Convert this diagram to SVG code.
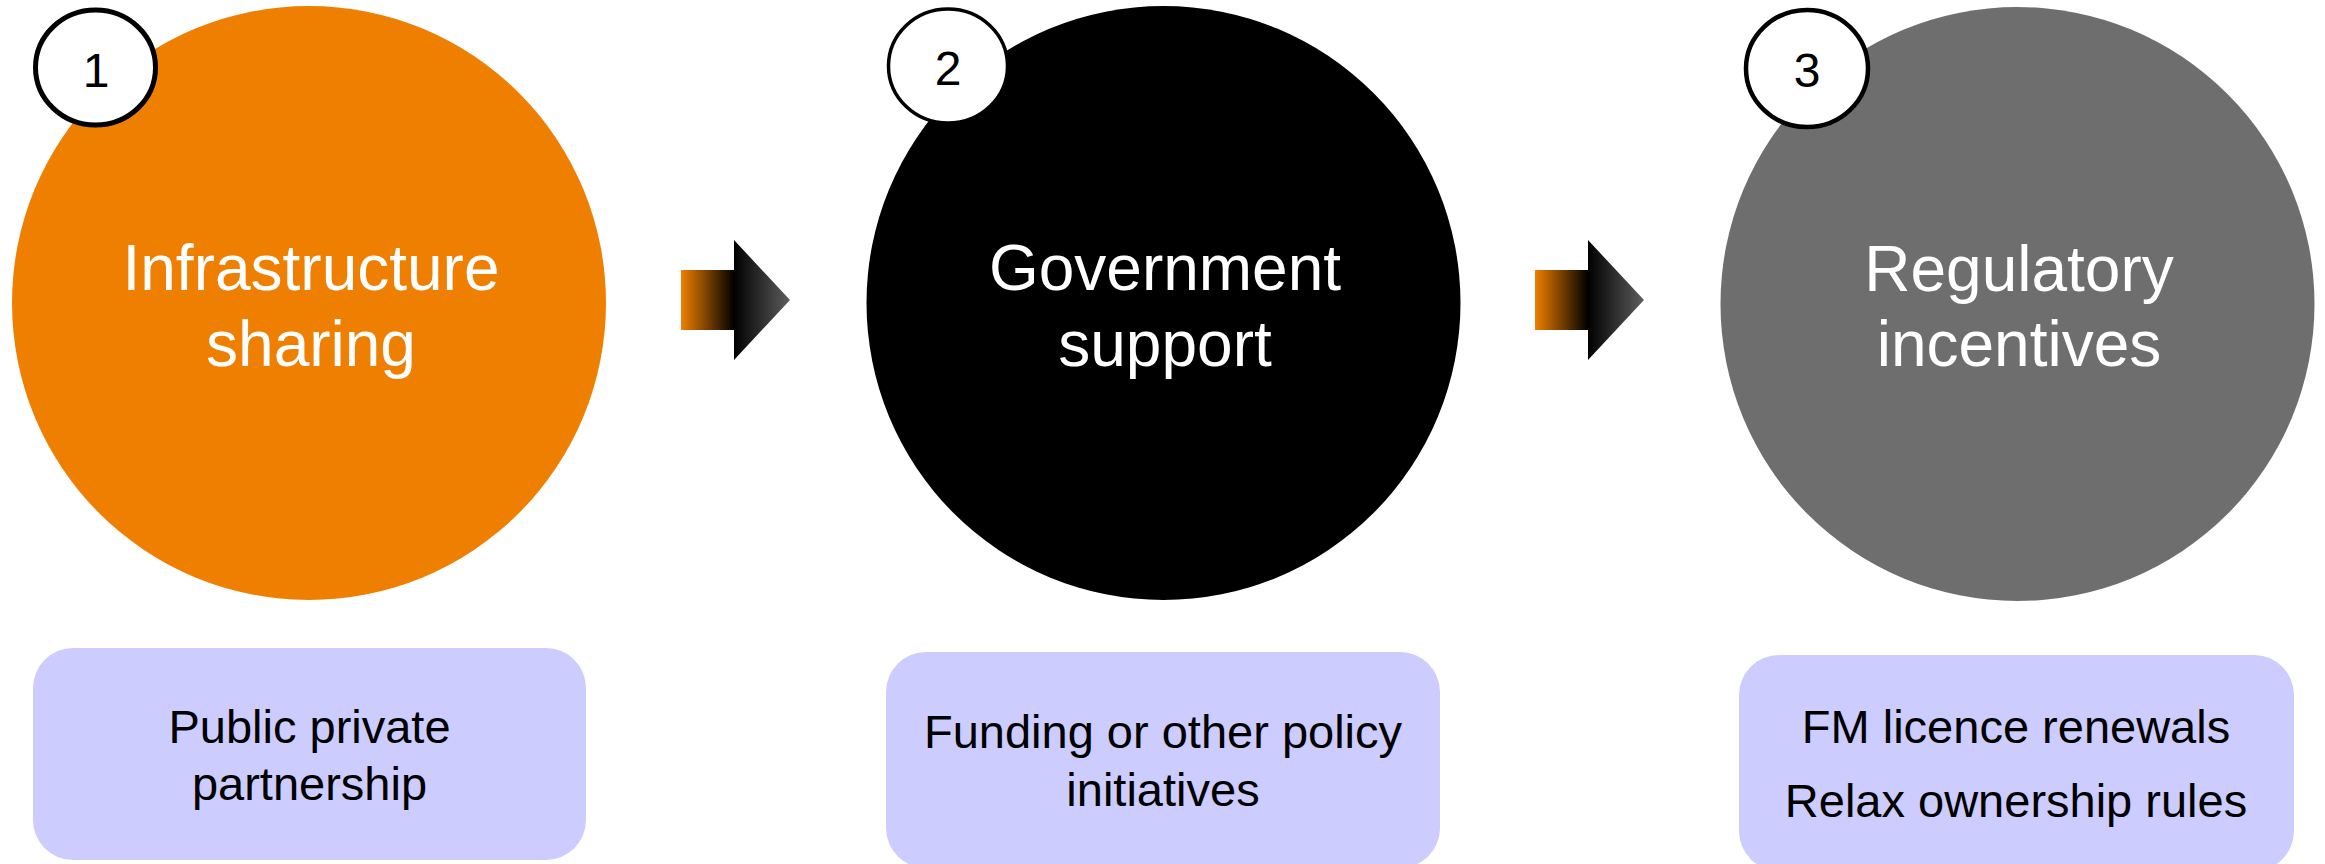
<svg xmlns="http://www.w3.org/2000/svg" width="2325" height="864" viewBox="0 0 2325 864">
  <defs>
    <linearGradient id="arrowFill" x1="0" y1="0" x2="1" y2="0">
      <stop offset="0" stop-color="#EF7F00"/>
      <stop offset="0.486" stop-color="#000000"/>
      <stop offset="1" stop-color="#5E5E5E"/>
    </linearGradient>
    <style>
      .big { stroke: none; }
      .badge { fill: #FFFFFF; stroke: #000000; }
      .num { font-family: "Liberation Sans", Arial, sans-serif; font-size: 48px; fill: #000000; text-anchor: middle; }
      .title { font-family: "Liberation Sans", Arial, sans-serif; font-size: 64px; fill: #FFFFFF; text-anchor: middle; }
      .card { fill: #CCCCFF; }
      .note { font-family: "Liberation Sans", Arial, sans-serif; font-size: 47px; fill: #000000; text-anchor: middle; }
      .arrow { fill: url(#arrowFill); }
    </style>
  </defs>

  <rect width="2325" height="864" fill="#FFFFFF"/>

  <!-- connectors between the stages -->
  <g id="connectors">
    <path class="arrow" d="M681,270 H734 V240 L790,300 L734,360 V330 H681 Z"/>
    <path class="arrow" d="M1535,270 H1588 V240 L1644,300 L1588,360 V330 H1535 Z"/>
  </g>

  <!-- stage 1 -->
  <g id="stage1">
    <circle class="big" cx="309" cy="303" r="297" fill="#EF7F00"/>
    <text class="title" x="311" y="290">Infrastructure</text>
    <text class="title" x="311" y="366">sharing</text>
    <ellipse class="badge" cx="95.5" cy="67.5" rx="60" ry="57.5" stroke-width="5"/>
    <text class="num" x="96" y="87">1</text>
  </g>

  <!-- stage 2 -->
  <g id="stage2">
    <circle class="big" cx="1163.5" cy="303" r="297" fill="#000000"/>
    <text class="title" x="1165" y="290">Government</text>
    <text class="title" x="1165" y="366">support</text>
    <ellipse class="badge" cx="948" cy="66" rx="59.5" ry="57" stroke-width="3.5"/>
    <text class="num" x="948" y="85">2</text>
  </g>

  <!-- stage 3 -->
  <g id="stage3">
    <circle class="big" cx="2017.5" cy="304" r="297" fill="#6E6E6E"/>
    <text class="title" x="2019" y="291">Regulatory</text>
    <text class="title" x="2019" y="366">incentives</text>
    <ellipse class="badge" cx="1807" cy="68.5" rx="61" ry="58.5" stroke-width="4.5"/>
    <text class="num" x="1807" y="87">3</text>
  </g>

  <!-- detail cards -->
  <g id="card1">
    <rect class="card" x="33" y="648" width="553" height="212" rx="40" ry="40"/>
    <text class="note" x="309.5" y="743">Public private</text>
    <text class="note" x="309.5" y="800">partnership</text>
  </g>
  <g id="card2">
    <rect class="card" x="886" y="652" width="554" height="216" rx="40" ry="40"/>
    <text class="note" x="1163" y="748">Funding or other policy</text>
    <text class="note" x="1163" y="806">initiatives</text>
  </g>
  <g id="card3">
    <rect class="card" x="1739" y="655" width="555" height="216" rx="40" ry="40"/>
    <text class="note" x="2016" y="743">FM licence renewals</text>
    <text class="note" x="2016" y="817">Relax ownership rules</text>
  </g>
</svg>
